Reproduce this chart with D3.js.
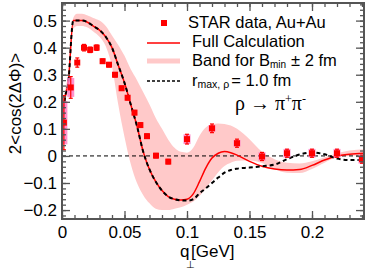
<!DOCTYPE html>
<html lang="en">
<head>
<meta charset="UTF-8">
<title>rho -> pi pi cos(2 dPhi)</title>
<script src="https://d3js.org/d3.v7.min.js"></script>
<style>
  html, body { margin: 0; padding: 0; background: #fff; }
  svg text { font-family: 'Liberation Sans', Arial, sans-serif; fill: #000; }
</style>
</head>
<body>
<div id="chart"></div>
<script>
// STAR points
const qData   = [0.0015, 0.007, 0.0122, 0.0176, 0.0225, 0.0277, 0.0325, 0.0376, 0.0424, 0.0477, 0.0525, 0.058, 0.0627, 0.068, 0.0752, 0.085, 0.1, 0.12, 0.14, 0.16, 0.18, 0.2, 0.22, 0.24];
const vData   = [0.123, 0.253, 0.345, 0.4, 0.392, 0.4, 0.35, 0.337, 0.3, 0.25, 0.215, 0.16, 0.114, 0.073, 0.001, -0.021, 0.062, 0.102, 0.047, -0.002, 0.01, 0.01, 0.01, -0.012];
const statErr = [0.1, 0.04, 0.017, 0.012, 0.01, 0.01, 0.008, 0.008, 0.008, 0.008, 0.008, 0.008, 0.008, 0.008, 0.008, 0.008, 0.018, 0.016, 0.015, 0.015, 0.015, 0.015, 0.015, 0.015];
const sysErr  = [0.08, 0.035, 0, 0, 0, 0, 0, 0, 0, 0, 0, 0, 0, 0, 0, 0, 0.018, 0.012, 0.012, 0.016, 0.016, 0.016, 0.016, 0.016];

// theory curves
const qCurve    = [0, 0.002, 0.005, 0.009, 0.012, 0.016, 0.02, 0.025, 0.03, 0.035, 0.04, 0.045, 0.05, 0.055, 0.06, 0.065, 0.07, 0.075, 0.08, 0.085, 0.09, 0.095, 0.1, 0.105, 0.11, 0.115, 0.12, 0.125, 0.13, 0.135, 0.14, 0.15, 0.16, 0.17, 0.18, 0.19, 0.2, 0.21, 0.22, 0.23, 0.242];
const fullCalc  = [0.02, 0.2, 0.27, 0.5, 0.5, 0.5, 0.495, 0.48, 0.465, 0.44, 0.4, 0.335, 0.27, 0.19, 0.11, 0.015, -0.05, -0.095, -0.128, -0.15, -0.16, -0.163, -0.16, -0.14, -0.095, -0.045, -0.008, 0.01, 0.016, 0.012, 0.003, -0.02, -0.038, -0.048, -0.052, -0.05, -0.035, -0.015, 0.0, 0.006, 0.01];
const rmaxCurve = [0.02, 0.2, 0.27, 0.5, 0.5, 0.5, 0.495, 0.48, 0.465, 0.44, 0.4, 0.335, 0.27, 0.19, 0.11, 0.015, -0.05, -0.095, -0.128, -0.15, -0.16, -0.164, -0.165, -0.16, -0.138, -0.12, -0.1, -0.08, -0.062, -0.052, -0.047, -0.043, -0.038, -0.032, -0.012, 0.005, 0.013, 0.006, -0.01, -0.015, -0.015];
const bandHigh  = [0.03, 0.22, 0.3, 0.51, 0.525, 0.525, 0.52, 0.51, 0.5, 0.48, 0.445, 0.41, 0.37, 0.32, 0.28, 0.235, 0.19, 0.14, 0.1, 0.06, 0.03, 0.015, 0.012, 0.03, 0.075, 0.105, 0.117, 0.12, 0.118, 0.112, 0.1, 0.062, 0.015, -0.012, -0.025, -0.028, -0.02, -0.005, 0.01, 0.02, 0.025];
const bandLow   = [0.0, 0.18, 0.25, 0.47, 0.48, 0.48, 0.475, 0.46, 0.44, 0.405, 0.33, 0.19, 0.07, -0.03, -0.1, -0.145, -0.175, -0.195, -0.2, -0.2, -0.195, -0.19, -0.18, -0.168, -0.148, -0.12, -0.09, -0.06, -0.037, -0.025, -0.018, -0.017, -0.026, -0.048, -0.062, -0.063, -0.048, -0.025, -0.005, 0.0, 0.004];

const xMajor = [0, 0.05, 0.1, 0.15, 0.2];
const yMajor = [-0.2, -0.1, 0, 0.1, 0.2, 0.3, 0.4, 0.5];

const W = 366, H = 275;
const pLeft = 62, pRight = 364, pTop = 3, pBottom = 219;

const x = d3.scaleLinear().domain([0, 0.2416]).range([pLeft, pRight]);
const y = d3.scaleLinear().domain([-0.233, 0.565]).range([pBottom, pTop]);

const svg = d3.select("#chart").append("svg")
  .attr("width", W).attr("height", H);

svg.append("clipPath").attr("id", "clip")
  .append("rect").attr("x", pLeft).attr("y", pTop)
  .attr("width", pRight - pLeft).attr("height", pBottom - pTop);

const plot = svg.append("g").attr("clip-path", "url(#clip)");

// band
const bandPts = qCurve.map((q, i) => ({q, lo: bandLow[i], hi: bandHigh[i]}));
plot.append("path")
  .datum(bandPts)
  .attr("d", d3.area().x(d => x(d.q)).y0(d => y(d.lo)).y1(d => y(d.hi)).curve(d3.curveMonotoneX))
  .attr("fill", "#ffc9c9");

// zero line
plot.append("line")
  .attr("x1", pLeft).attr("x2", pRight)
  .attr("y1", y(0)).attr("y2", y(0))
  .attr("stroke", "#000").attr("stroke-width", 1)
  .attr("stroke-dasharray", "4,3");

const line = d3.line().x(d => d[0]).y(d => d[1]).curve(d3.curveMonotoneX);

plot.append("path")
  .attr("d", line(qCurve.map((q, i) => [x(q), y(fullCalc[i])])))
  .attr("fill", "none").attr("stroke", "#ff0000").attr("stroke-width", 1.5);

plot.append("path")
  .attr("d", line(qCurve.map((q, i) => [x(q), y(rmaxCurve[i])])))
  .attr("fill", "none").attr("stroke", "#000").attr("stroke-width", 2)
  .attr("stroke-dasharray", "4,3");

// data points
const pts = qData.map((q, i) => ({q, v: vData[i], s: statErr[i], sy: sysErr[i]}));

plot.selectAll("rect.sys")
  .data(pts.filter(d => d.sy > 0)).enter()
  .append("rect").attr("class", "sys")
  .attr("x", d => x(d.q) - 3.5)
  .attr("y", d => y(d.v + d.sy))
  .attr("width", 7)
  .attr("height", d => y(d.v - d.sy) - y(d.v + d.sy))
  .attr("fill", "#ff7fc4").attr("opacity", 0.85);

const err = plot.selectAll("g.err").data(pts).enter().append("g").attr("class", "err")
  .attr("stroke", "#ff0000").attr("stroke-width", 1.2);
err.append("line")
  .attr("x1", d => x(d.q)).attr("x2", d => x(d.q))
  .attr("y1", d => y(d.v + d.s)).attr("y2", d => y(d.v - d.s));
err.append("line")
  .attr("x1", d => x(d.q) - 2).attr("x2", d => x(d.q) + 2)
  .attr("y1", d => y(d.v + d.s)).attr("y2", d => y(d.v + d.s));
err.append("line")
  .attr("x1", d => x(d.q) - 2).attr("x2", d => x(d.q) + 2)
  .attr("y1", d => y(d.v - d.s)).attr("y2", d => y(d.v - d.s));

plot.selectAll("rect.pt")
  .data(pts).enter()
  .append("rect").attr("class", "pt")
  .attr("x", d => x(d.q) - 3).attr("y", d => y(d.v) - 3)
  .attr("width", 6).attr("height", 6)
  .attr("fill", "#ff0000");

// axes, ticks inward on all four sides
const axisColor = "#555";
const xMinor = d3.range(0, 0.2416, 0.01);
const yMinor = d3.range(-0.22, 0.565, 0.02);

function styleAxis(g) {
  g.select(".domain").remove();
  g.selectAll(".tick line").attr("stroke", axisColor).attr("stroke-width", 1.3);
  g.selectAll("text").style("font-size", "17px").attr("fill", "#000");
}

svg.append("g").attr("transform", `translate(0,${pBottom})`)
  .call(d3.axisBottom(x).tickValues(xMinor).tickSize(-4).tickFormat("")).call(styleAxis);
svg.append("g").attr("transform", `translate(0,${pBottom})`)
  .call(d3.axisBottom(x).tickValues(xMajor).tickSize(-8).tickPadding(7)
    .tickFormat(d => String(+d.toFixed(2)))).call(styleAxis);
svg.append("g").attr("transform", `translate(0,${pTop})`)
  .call(d3.axisTop(x).tickValues(xMinor).tickSize(-4).tickFormat("")).call(styleAxis);
svg.append("g").attr("transform", `translate(0,${pTop})`)
  .call(d3.axisTop(x).tickValues(xMajor).tickSize(-8).tickFormat("")).call(styleAxis);

svg.append("g").attr("transform", `translate(${pLeft},0)`)
  .call(d3.axisLeft(y).tickValues(yMinor).tickSize(-4).tickFormat("")).call(styleAxis);
svg.append("g").attr("transform", `translate(${pLeft},0)`)
  .call(d3.axisLeft(y).tickValues(yMajor).tickSize(-8).tickPadding(5)
    .tickFormat(d => Math.abs(d) < 1e-9 ? "0" : d3.format(".1f")(d))).call(styleAxis);
svg.append("g").attr("transform", `translate(${pRight},0)`)
  .call(d3.axisRight(y).tickValues(yMinor).tickSize(-4).tickFormat("")).call(styleAxis);
svg.append("g").attr("transform", `translate(${pRight},0)`)
  .call(d3.axisRight(y).tickValues(yMajor).tickSize(-8).tickFormat("")).call(styleAxis);

svg.append("rect")
  .attr("x", pLeft).attr("y", pTop)
  .attr("width", pRight - pLeft).attr("height", pBottom - pTop)
  .attr("fill", "none").attr("stroke", axisColor).attr("stroke-width", 2);

// axis titles
svg.append("text")
  .attr("transform", "translate(21,103.5) rotate(-90)")
  .attr("text-anchor", "middle")
  .style("font-size", "17px")
  .text("2<cos(2\u0394\u03A6)>");

svg.append("text").attr("x", 180).attr("y", 257).style("font-size", "17px").text("q");
svg.append("text").attr("x", 191).attr("y", 257).style("font-size", "17px").text("[GeV]");
svg.append("text").attr("x", 186).attr("y", 268).style("font-size", "10px").text("\u22A5");

// legend
const lg = svg.append("g");
lg.append("rect").attr("x", 161).attr("y", 20).attr("width", 6).attr("height", 6).attr("fill", "#ff0000");
lg.append("line").attr("x1", 147).attr("x2", 180).attr("y1", 43).attr("y2", 43)
  .attr("stroke", "#ff0000").attr("stroke-width", 1.3);
lg.append("line").attr("x1", 147).attr("x2", 180).attr("y1", 61).attr("y2", 61)
  .attr("stroke", "#ffc9c9").attr("stroke-width", 5);
lg.append("line").attr("x1", 147).attr("x2", 180).attr("y1", 81).attr("y2", 81)
  .attr("stroke", "#000").attr("stroke-width", 1.5).attr("stroke-dasharray", "3,2");

lg.append("text").attr("x", 188).attr("y", 27.5).style("font-size", "16.5px").text("STAR data, Au+Au");
lg.append("text").attr("x", 192).attr("y", 47).style("font-size", "16.5px").text("Full Calculation");
const bt = lg.append("text").attr("x", 192).attr("y", 65.5).style("font-size", "16.5px");
bt.append("tspan").text("Band for B");
bt.append("tspan").attr("dy", 2).style("font-size", "10px").text("min");
bt.append("tspan").attr("dy", -2).attr("dx", 5).text("\u00B1 2 fm");
const rt = lg.append("text").attr("x", 192).attr("y", 85.5).style("font-size", "16.5px");
rt.append("tspan").text("r");
rt.append("tspan").attr("dy", 2).style("font-size", "10.5px").text("max, \u03C1");
rt.append("tspan").attr("dy", -2).attr("dx", 2).text("= 1.0 fm");

const pt = lg.append("text").attr("x", 235).attr("y", 110)
  .style("font-family", "'Liberation Serif', 'Times New Roman', serif").style("font-size", "20px");
pt.append("tspan").text("\u03C1 \u2192 \u03C0");
pt.append("tspan").attr("dy", -7).style("font-size", "12px").text("+");
pt.append("tspan").attr("dy", 7).text("\u03C0");
pt.append("tspan").attr("dy", -7).style("font-size", "12px").text("-");
</script>
</body>
</html>
